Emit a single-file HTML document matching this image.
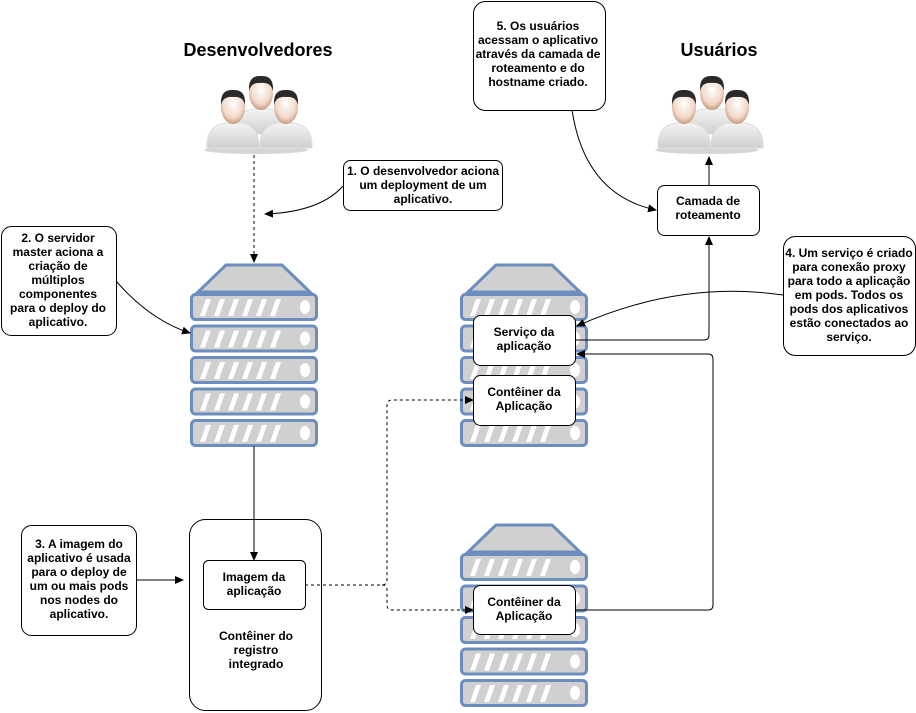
<!DOCTYPE html>
<html><head><meta charset="utf-8"><style>
body{margin:0;background:#fff}
svg{display:block;font-family:"Liberation Sans",sans-serif}
.b{font-weight:bold;font-size:12px;text-anchor:middle}
.bx{fill:#fff;stroke:#000;stroke-width:1}
.ln{fill:none;stroke:#000;stroke-width:1}
</style></head><body>
<svg width="916" height="713" viewBox="0 0 916 713">
<defs>
<marker id="a" markerWidth="10" markerHeight="10" refX="8" refY="5" orient="auto" markerUnits="userSpaceOnUse">
<path d="M0,1 L9,5 L0,9 Z" fill="#000"/></marker>
<g id="unit">
<rect x="1.5" y="1.5" width="125" height="25" rx="4" fill="#d0d0d0" stroke="#6c8ebf" stroke-width="3"/>
<path d="M10,23 L16,6 L21,6 L15,23Z M24,23 L30,6 L35,6 L29,23Z M38,23 L44,6 L49,6 L43,23Z M52,23 L58,6 L63,6 L57,23Z M66,23 L72,6 L77,6 L71,23Z M80,23 L86,6 L91,6 L85,23Z" fill="#fff"/>
<ellipse cx="115" cy="14" rx="5" ry="7" fill="#fff"/>
</g>
<g id="server">
<path d="M36,0 L92,0 L120,27 L8,27 Z" fill="#d0d0d0" stroke="#6c8ebf" stroke-width="3"/>
<use href="#unit" y="28"/><use href="#unit" y="59.5"/><use href="#unit" y="91"/><use href="#unit" y="122.5"/><use href="#unit" y="154"/>
</g>
<radialGradient id="face" cx="0.5" cy="0.4" r="0.6"><stop offset="0" stop-color="#fff"/><stop offset="0.7" stop-color="#f2d8c8"/><stop offset="1" stop-color="#c79a80"/></radialGradient>
<linearGradient id="shirt" x1="0" y1="0" x2="0" y2="1"><stop offset="0" stop-color="#f4f4f4"/><stop offset="1" stop-color="#cfcfcf"/></linearGradient>
<g id="man">
<path d="M-26,42 Q-27,20 -8,17 L8,17 Q27,20 26,42 Z" fill="url(#shirt)" stroke="#ddd"/>
<ellipse cx="0" cy="1" rx="12" ry="17" fill="url(#face)"/>
<path d="M-12,-1 Q-13,-17 0,-16 Q13,-17 12,-1 Q10,-10 0,-9 Q-10,-10 -12,-1Z" fill="#2a2a2a"/>
</g>
<g id="people">
<ellipse cx="55" cy="80" rx="52" ry="4" fill="#999" opacity="0.4"/>
<use href="#man" x="60" y="22"/>
<use href="#man" x="32" y="36"/>
<use href="#man" x="85" y="36"/>
</g>
</defs>

<text x="258" y="56" style="font-weight:bold;font-size:18px;text-anchor:middle">Desenvolvedores</text>
<text x="719" y="56" style="font-weight:bold;font-size:18px;text-anchor:middle">Usuários</text>
<use href="#people" x="201" y="70"/>
<use href="#people" x="652" y="70"/>

<use href="#server" x="190" y="265"/>
<use href="#server" x="460" y="265"/>
<use href="#server" x="460" y="525"/>

<rect class="bx" x="189.5" y="519.5" width="132" height="191" rx="16"/>

<!-- connectors -->
<path class="ln" d="M254,155 L254,262" stroke-dasharray="3,3" marker-end="url(#a)"/>
<path class="ln" d="M343,186 Q320,212 265,214" marker-end="url(#a)"/>
<path class="ln" d="M116,281 Q150,320 190,333" marker-end="url(#a)"/>
<path class="ln" d="M254,446 L254,560" marker-end="url(#a)"/>
<path class="ln" d="M136,580 L183,580" marker-end="url(#a)"/>
<path class="ln" d="M305,585 L382,585 Q387,585 387,580 L387,405 Q387,400 392,400 L473,400" stroke-dasharray="3,3" marker-end="url(#a)"/>
<path class="ln" d="M382,585 Q387,585 387,590 L387,605 Q387,610 392,610 L473,610" stroke-dasharray="3,3" marker-end="url(#a)"/>
<path class="ln" d="M575,340 L704,340 Q709,340 709,335 L709,237" marker-end="url(#a)"/>
<path class="ln" d="M709,185 L709,157" marker-end="url(#a)"/>
<path class="ln" d="M572,110 Q585,195 656,210" marker-end="url(#a)"/>
<path class="ln" d="M783,295 Q680,280 577,326" marker-end="url(#a)"/>
<path class="ln" d="M575,610 L708,610 Q713,610 713,605 L713,359 Q713,354 708,354 L577,354" marker-end="url(#a)"/>

<!-- boxes -->
<rect class="bx" x="343.5" y="160.5" width="159" height="50" rx="7"/>
<text class="b" x="423" y="175">1. O desenvolvedor aciona</text>
<text class="b" x="423" y="189">um deployment de um</text>
<text class="b" x="423" y="203">aplicativo.</text>

<rect class="bx" x="1.5" y="226.5" width="115" height="109" rx="10"/>
<text class="b" x="58" y="242">2. O servidor</text>
<text class="b" x="58" y="256">master aciona a</text>
<text class="b" x="58" y="270">criação de</text>
<text class="b" x="58" y="284">múltiplos</text>
<text class="b" x="58" y="298">componentes</text>
<text class="b" x="58" y="312">para o deploy do</text>
<text class="b" x="58" y="326">aplicativo.</text>

<rect class="bx" x="21.5" y="525.5" width="115" height="110" rx="10"/>
<text class="b" x="79" y="548">3. A imagem do</text>
<text class="b" x="79" y="562">aplicativo é usada</text>
<text class="b" x="79" y="576">para o deploy de</text>
<text class="b" x="79" y="590">um ou mais pods</text>
<text class="b" x="79" y="604">nos nodes do</text>
<text class="b" x="79" y="618">aplicativo.</text>

<rect class="bx" x="783.5" y="236.5" width="132" height="119" rx="12"/>
<text class="b" x="849" y="257">4. Um serviço é criado</text>
<text class="b" x="849" y="271">para conexão proxy</text>
<text class="b" x="849" y="285">para todo a aplicação</text>
<text class="b" x="849" y="299">em pods. Todos os</text>
<text class="b" x="849" y="313">pods dos aplicativos</text>
<text class="b" x="849" y="327">estão conectados ao</text>
<text class="b" x="849" y="341">serviço.</text>

<rect class="bx" x="473.5" y="1.5" width="132" height="109" rx="12"/>
<text class="b" x="538" y="30">5. Os usuários</text>
<text class="b" x="538" y="44">acessam o aplicativo</text>
<text class="b" x="538" y="58">através da camada de</text>
<text class="b" x="538" y="72">roteamento e do</text>
<text class="b" x="538" y="86">hostname criado.</text>

<rect class="bx" x="657.5" y="185.5" width="102" height="50" rx="7"/>
<text class="b" x="708" y="205">Camada de</text>
<text class="b" x="708" y="219">roteamento</text>

<rect class="bx" x="473.5" y="315.5" width="102" height="50" rx="7"/>
<text class="b" x="524" y="336">Serviço da</text>
<text class="b" x="524" y="350">aplicação</text>

<rect class="bx" x="473.5" y="375.5" width="102" height="50" rx="7"/>
<text class="b" x="524" y="396">Contêiner da</text>
<text class="b" x="524" y="410">Aplicação</text>

<rect class="bx" x="473.5" y="585.5" width="102" height="49" rx="7"/>
<text class="b" x="524" y="606">Contêiner da</text>
<text class="b" x="524" y="620">Aplicação</text>

<rect class="bx" x="203.5" y="560.5" width="102" height="49" rx="5"/>
<text class="b" x="254" y="581">Imagem da</text>
<text class="b" x="254" y="595">aplicação</text>
<text class="b" x="256" y="640">Contêiner do</text>
<text class="b" x="256" y="654">registro</text>
<text class="b" x="256" y="668">integrado</text>
</svg>
</body></html>
